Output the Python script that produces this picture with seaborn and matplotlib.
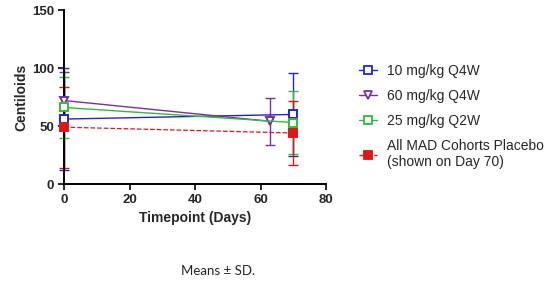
import matplotlib
matplotlib.use('Agg')
import matplotlib.pyplot as plt
import seaborn as sns
import pandas as pd
from matplotlib.lines import Line2D

# ── Data ────────────────────────────────────────────────────────────────────
series_names = ['10 mg/kg Q4W', '60 mg/kg Q4W', '25 mg/kg Q2W',
                'All MAD Cohorts Placebo\n(shown on Day 70)']
days_10 = [0, 70]
mean_10 = [56, 60]
sd_10 = [44, 36]
days_60 = [0, 63]
mean_60 = [72, 54]
sd_60 = [25, 20]
days_25 = [0, 70]
mean_25 = [66, 53]
sd_25 = [26, 27]
days_pl = [0, 70]
mean_pl = [49, 44]
sd_pl = [35, 28]

x_ticks = [0, 20, 40, 60, 80]
y_ticks = [0, 50, 100, 150]

colors = ['#2323d2', '#7a2ea6', '#2fbf2f', '#e01515']
markers = ['s', 'v', 's', 's']
fills = ['white', 'white', 'white', '#e01515']
linestyles = ['-', '-', '-', '--']

sns.set_style('ticks')
plt.rcParams['font.family'] = ['Liberation Sans', 'DejaVu Sans']

fig = plt.figure(figsize=(5.59, 2.84), dpi=100)
ax = fig.add_axes([0.1145, 0.352, 0.4687, 0.6127])

all_days = [days_10, days_60, days_25, days_pl]
all_mean = [mean_10, mean_60, mean_25, mean_pl]
all_sd = [sd_10, sd_60, sd_25, sd_pl]

for i in range(4):
    df = pd.DataFrame({'day': all_days[i], 'cl': all_mean[i]})
    lw = 0.9 if i == 3 else 1.0
    ax.errorbar(df['day'], df['cl'], yerr=all_sd[i], fmt='none',
                ecolor=colors[i], elinewidth=1.0, capsize=3.5, capthick=1.0,
                clip_on=False, zorder=2)
    sns.lineplot(data=df, x='day', y='cl', ax=ax, color=colors[i],
                 linestyle=linestyles[i], linewidth=lw, marker=markers[i],
                 markersize=6 if markers[i] == 'v' else 5.5,
                 markerfacecolor=fills[i], markeredgecolor=colors[i],
                 markeredgewidth=1.4, clip_on=False, zorder=3)

ax.set_xlim(0, 80)
ax.set_ylim(0, 150)
ax.set_xticks(x_ticks)
ax.set_yticks(y_ticks)
ax.tick_params(axis='both', direction='out', length=4, width=1.4,
               labelsize=9.5, pad=3)
for lab in ax.get_xticklabels() + ax.get_yticklabels():
    lab.set_fontweight('bold')
for s in ['left', 'bottom']:
    ax.spines[s].set_linewidth(1.4)
    ax.spines[s].set_color('black')
sns.despine(ax=ax)

ax.set_xlabel('Timepoint (Days)', fontsize=10, fontweight='bold', labelpad=4)
ax.set_ylabel('Centiloids', fontsize=10, fontweight='bold', labelpad=3)

handles = []
for i in range(4):
    handles.append(Line2D([0], [0], color=colors[i], linestyle=linestyles[i],
                          linewidth=1.0, marker=markers[i], markersize=5.5,
                          markerfacecolor=fills[i], markeredgecolor=colors[i],
                          markeredgewidth=1.3))
fig.legend(handles, series_names, loc='upper left',
           bbox_to_anchor=(0.62, 0.82), frameon=False, fontsize=10,
           handlelength=1.3, handletextpad=0.7, labelspacing=0.8)

fig.text(0.39, 0.03, 'Means \u00b1 SD.', fontsize=9.5, ha='center',
         family=['Lato', 'DejaVu Sans'])

fig.savefig('out.png', dpi=100)
plt.close(fig)
